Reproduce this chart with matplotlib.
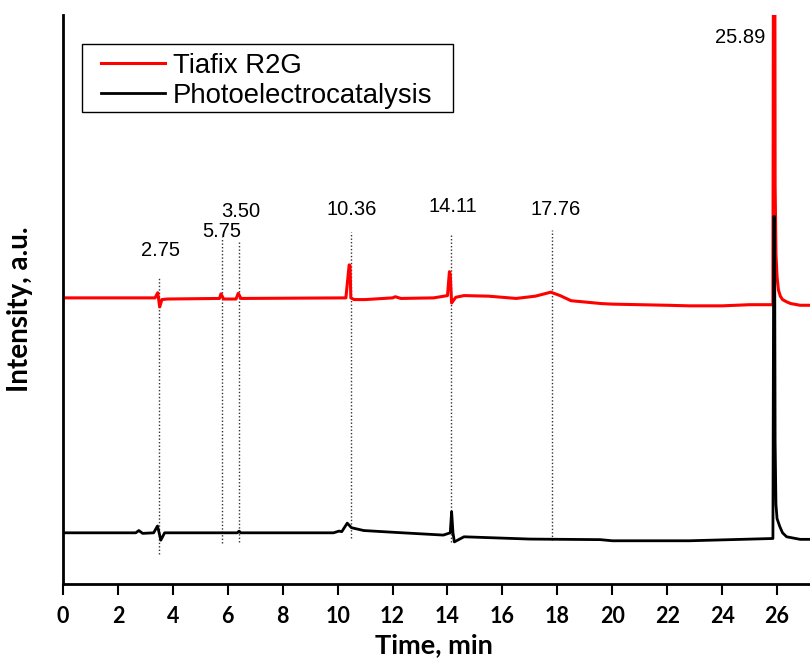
import numpy as np
import matplotlib
matplotlib.use("Agg")
import matplotlib.pyplot as plt
from matplotlib.patches import Rectangle

# Tiafix R2G trace (time in min, intensity in a.u.)
red_t = [0, 3.35, 3.45, 3.52, 3.6, 3.8, 5.7, 5.75, 5.85, 6.3, 6.38, 6.48,
         10.3, 10.42, 10.45, 10.48, 10.6, 11.0, 12.0, 12.1, 12.3, 13.5, 14.0,
         14.07, 14.1, 14.15, 14.3, 14.6, 15.5, 16.5, 17.2, 17.76, 18.1, 18.5,
         19.6, 20.0, 22.0, 22.8, 24.0, 25.0, 25.85, 25.88, 25.91, 25.93,
         25.96, 26.0, 26.05, 26.12, 26.2, 26.35, 26.5, 26.84, 27.3]
red_y = [50.3, 50.3, 51.2, 48.7, 50.0, 50.1, 50.2, 51.0, 50.1, 50.1, 51.1, 50.2,
         50.3, 56.1, 56.0, 50.3, 50.0, 50.0, 50.3, 50.5, 50.2, 50.3, 50.7,
         54.9, 54.5, 49.4, 50.4, 50.7, 50.6, 50.2, 50.6, 51.3, 50.7, 49.8,
         49.3, 49.2, 49.0, 48.9, 48.9, 49.1, 49.1, 150.0, 150.0, 70.0,
         58.0, 54.0, 51.7, 50.6, 50.0, 49.6, 49.3, 49.0, 49.0]

# Photoelectrocatalysis trace
blk_t = [0, 2.65, 2.76, 2.9, 3.3, 3.44, 3.5, 3.56, 3.7, 6.35, 6.41, 6.47,
         9.85, 10.05, 10.15, 10.35, 10.5, 10.95, 12.0, 13.85, 14.1, 14.15,
         14.2, 14.25, 14.6, 17.0, 19.56, 20.0, 22.8, 25.85, 25.88, 25.91,
         25.93, 25.96, 26.0, 26.1, 26.2, 26.35, 26.84, 27.3]
blk_y = [9.0, 9.0, 9.4, 8.9, 9.0, 10.2, 9.0, 7.7, 9.0, 9.0, 9.3, 9.0,
         9.0, 9.3, 9.2, 10.7, 9.9, 9.4, 9.1, 8.6, 9.0, 12.7,
         9.0, 7.4, 8.3, 7.9, 7.8, 7.6, 7.6, 8.0, 64.6, 64.6,
         25.0, 14.0, 11.5, 10.1, 9.0, 8.3, 7.85, 7.85]

# dotted marker lines: x, bottom, top
mark_x = [3.48, 5.78, 6.41, 10.5, 14.12, 17.8]
mark_lo = [5.3, 7.2, 7.4, 8.1, 7.4, 7.7]
mark_hi = [54.0, 61.0, 60.5, 61.9, 61.3, 62.2]

# peak labels as printed
lab_txt = ['2.75', '5.75', '3.50', '10.36', '14.11', '17.76', '25.89']
lab_x = [3.56, 5.78, 6.47, 10.5, 14.18, 17.93, 24.65]
lab_y = [58.7, 61.9, 65.4, 65.9, 66.3, 65.9, 96.1]

fig = plt.figure(figsize=(8.1, 6.59), dpi=100)
ax = fig.add_axes([0.0778, 0.1138, 0.9222, 0.8632])

for x, lo, hi in zip(mark_x, mark_lo, mark_hi):
    ax.vlines(x, lo, hi, colors='#333333', linestyles=(0, (1, 1.5)), linewidth=1.0)

ax.plot(red_t, red_y, color='#ff0000', lw=2.2, label='Tiafix R2G')
ax.plot(blk_t, blk_y, color='black', lw=2.0, label='Photoelectrocatalysis')

for s, x, y in zip(lab_txt, lab_x, lab_y):
    ax.text(x, y, s, ha='center', va='center', fontsize=14.5, family='Liberation Sans')

ax.set_xlim(0, 27.2)
ax.set_ylim(0, 100)
ax.set_xticks(np.arange(0, 27, 2))
ax.set_yticks([])
for s in ['top', 'right']:
    ax.spines[s].set_visible(False)
for s in ['left', 'bottom']:
    ax.spines[s].set_linewidth(2)
ax.tick_params(axis='x', direction='out', length=8, width=1.5, pad=8)
for lbl in ax.get_xticklabels():
    lbl.set_fontfamily('Lato')
    lbl.set_fontweight('bold')
    lbl.set_fontsize(15.5)

ax.set_xlabel('Time, min', fontsize=19.5, fontweight='bold', family='Lato')
ax.xaxis.set_label_coords(0.497, -0.086)
ax.set_ylabel('Intensity, a.u.', fontsize=20, fontweight='bold', family='Lato')
ax.yaxis.set_label_coords(-0.040, 0.483)

# legend box drawn separately so the padding matches
ax.add_patch(Rectangle((0.0254, 0.8295), 0.4966, 0.1195, transform=ax.transAxes,
                       facecolor='white', edgecolor='black', lw=1.0, zorder=4))
leg = ax.legend(loc='upper left', bbox_to_anchor=(0.0515, 0.934), frameon=False,
                prop={'family': 'Liberation Sans', 'size': 19.8},
                handlelength=2.3, handletextpad=0.3, borderpad=0, labelspacing=0.15,
                borderaxespad=0)
leg.set_zorder(5)

fig.savefig('out.png', dpi=100)
